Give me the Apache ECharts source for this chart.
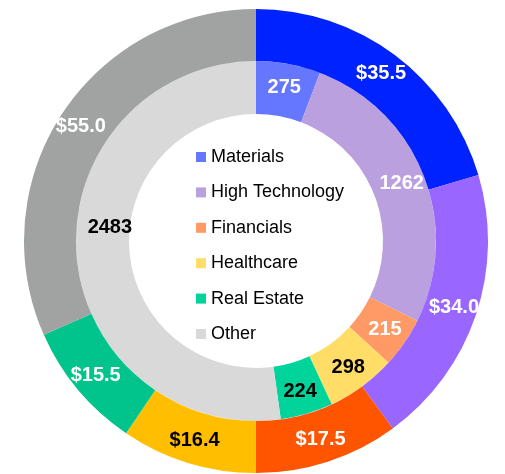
<!DOCTYPE html>
<html>
<head>
<meta charset="utf-8">
<script src="https://cdn.jsdelivr.net/npm/echarts@6/dist/echarts.min.js"></script>
<style>
  html, body { margin: 0; padding: 0; background: #fff; }
  #chart { width: 505px; height: 474px; }
</style>
</head>
<body>
<div id="chart"></div>
<script>
// sectors
const sectors = ['Materials', 'High Technology', 'Financials', 'Healthcare', 'Real Estate', 'Other']
// outer ring values ($)
const outerValues = [35.5, 34.0, 17.5, 16.4, 15.5, 55.0]
// inner ring values (count)
const innerValues = [275, 1262, 215, 298, 224, 2483]

const outerColors = ['#0022ff', '#9966ff', '#ff5500', '#ffbf00', '#00c48c', '#a0a3a1']
const innerColors = ['#6677ff', '#bba0e0', '#ff9966', '#ffdd66', '#00d49a', '#d8d9d8']
const outerLabelColors = ['#fff', '#fff', '#fff', '#000', '#fff', '#fff']
const innerLabelColors = ['#fff', '#fff', '#fff', '#000', '#000', '#000']

const chart = echarts.init(document.getElementById('chart'))

const labelFont = {
  show: true,
  position: 'inside',
  fontFamily: 'Liberation Sans, Arial, sans-serif',
  fontSize: 20,
  fontWeight: 'bold'
}

const center = [256, 241]

const option = {
  animation: false,
  legend: {
    orient: 'vertical',
    left: 191,
    top: 143,
    icon: 'rect',
    itemWidth: 10,
    itemHeight: 10,
    itemGap: 17.4,
    textStyle: {
      fontFamily: 'Liberation Sans, Arial, sans-serif',
      fontSize: 18,
      color: '#000'
    },
    data: sectors
  },
  series: [
    {
      name: 'inner',
      type: 'pie',
      center: center,
      radius: [127, 180],
      startAngle: 90,
      silent: true,
      label: { ...labelFont, formatter: p => p.value },
      labelLine: { show: false },
      data: sectors.map((name, i) => ({
        name,
        value: innerValues[i],
        itemStyle: { color: innerColors[i] },
        // the big "Other" label sits a bit higher in the original
        label: i === 5
          ? { color: innerLabelColors[i], padding: [0, 0, 0, 20], lineHeight: 24, formatter: p => p.value + '\n \n ' }
          : { color: innerLabelColors[i] }
      }))
    },
    {
      name: 'outer',
      type: 'pie',
      center: center,
      radius: [180, 232],
      startAngle: 90,
      silent: true,
      label: { ...labelFont, formatter: p => '$' + p.value.toFixed(1) },
      labelLine: { show: false },
      data: sectors.map((name, i) => ({
        name,
        value: outerValues[i],
        itemStyle: { color: outerColors[i] },
        label: { color: outerLabelColors[i] }
      }))
    }
  ]
}

chart.setOption(option)
</script>
</body>
</html>
